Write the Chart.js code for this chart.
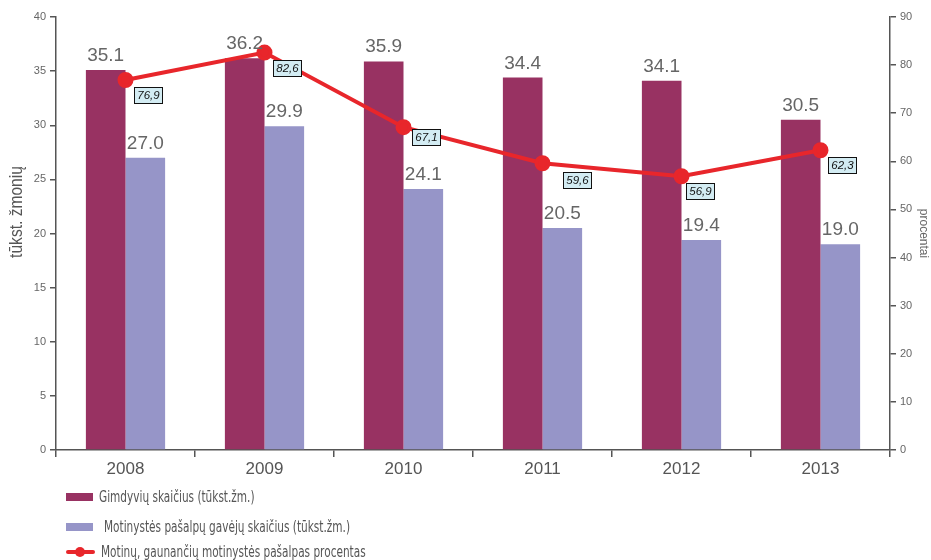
<!DOCTYPE html>
<html>
<head>
<meta charset="utf-8">
<script src="https://cdn.jsdelivr.net/npm/chart.js@4"></script>
<style>
  body { margin: 0; background: #fff; }
  #wrap { position: relative; width: 931px; height: 560px; overflow: hidden; }
  #legend { position: absolute; left: 66px; top: 486px; font-family: "Liberation Sans Narrow", "DejaVu Sans Condensed", sans-serif; font-size: 15px; color: #555; }
  .item { position: absolute; left: 0; white-space: nowrap; height: 16px; line-height: 16px; }
  .box { position: absolute; left: 0; top: 4px; width: 27px; height: 8px; }
  .txt { position: absolute; transform: scaleX(0.78); transform-origin: 0 50%; }
  .ln { position: absolute; left: 0; top: 6px; width: 29px; height: 4px; background: #e8262b; border-radius: 2px; }
  .dot { position: absolute; left: 9px; top: 3px; width: 10px; height: 10px; border-radius: 50%; background: #e8262b; }
</style>
</head>
<body>
<div id="wrap">
  <canvas id="c" width="931" height="560"></canvas>
  <div id="legend">
    <div class="item" style="top:3px"><span class="box" style="background:#983262"></span><span class="txt" style="left:33px">Gimdyvių skaičius (tūkst.žm.)</span></div>
    <div class="item" style="top:33px"><span class="box" style="background:#9695c8"></span><span class="txt" style="left:38px">Motinystės pašalpų gavėjų skaičius (tūkst.žm.)</span></div>
    <div class="item" style="top:58px"><span class="ln"></span><span class="dot"></span><span class="txt" style="left:35px">Motinų, gaunančių motinystės pašalpas procentas</span></div>
  </div>
</div>
<script>
// metai ir reikšmės
const metai = ['2008', '2009', '2010', '2011', '2012', '2013'];
const gimdyves = [35.1, 36.2, 35.9, 34.4, 34.1, 30.5];
const gavejai = [27.0, 29.9, 24.1, 20.5, 19.4, 19.0];
const procentai = [76.9, 82.6, 67.1, 59.6, 56.9, 62.3];

const MAROON = '#983262';
const LAVENDER = '#9695c8';
const RED = '#e8262b';
const AXIS = '#555';

// kur dėti procentų dėžutes taško atžvilgiu
const dezutesPoslinkis = [[8, 7], [8, 7], [8, 2], [20, 9], [4, 7], [7, 7]];

// reikšmių užrašai virš stulpelių, dėžutės prie linijos taškų, kairės ašies pavadinimas
const uzrasai = {
  id: 'uzrasai',
  afterDatasetsDraw(chart) {
    const ctx = chart.ctx;
    ctx.save();
    [0, 1].forEach(i => {
      chart.getDatasetMeta(i).data.forEach((bar, j) => {
        ctx.font = '19px "Liberation Sans", Arial, sans-serif';
        ctx.fillStyle = '#666';
        ctx.textAlign = 'center';
        ctx.textBaseline = 'alphabetic';
        ctx.fillText(chart.data.datasets[i].data[j].toFixed(1), bar.x, bar.y - 9);
      });
    });
    chart.getDatasetMeta(2).data.forEach((pt, j) => {
      const txt = procentai[j].toFixed(1).replace('.', ',');
      const [dx, dy] = dezutesPoslinkis[j];
      const bx = Math.round(pt.x) + dx + 0.5, by = Math.round(pt.y) + dy + 0.5;
      ctx.fillStyle = '#d3ecf3';
      ctx.fillRect(bx, by, 28, 16);
      ctx.strokeStyle = '#111';
      ctx.lineWidth = 1;
      ctx.strokeRect(bx, by, 28, 16);
      ctx.font = 'italic 11.5px "Liberation Sans", Arial, sans-serif';
      ctx.fillStyle = '#111';
      ctx.textAlign = 'center';
      ctx.textBaseline = 'middle';
      ctx.fillText(txt, bx + 14, by + 8.5);
    });

    // ašies pavadinimas, siauresnis šriftas
    ctx.translate(17, 212);
    ctx.rotate(-Math.PI / 2);
    ctx.scale(0.82, 1);
    ctx.font = '19px "Liberation Sans", Arial, sans-serif';
    ctx.fillStyle = '#555';
    ctx.textAlign = 'center';
    ctx.textBaseline = 'middle';
    ctx.fillText('tūkst. žmonių', 0, 0);
    ctx.restore();
  }
};

new Chart(document.getElementById('c'), {
  data: {
    labels: metai,
    datasets: [
      { type: 'bar', label: 'Gimdyvių skaičius (tūkst.žm.)', data: gimdyves, backgroundColor: MAROON, yAxisID: 'y', order: 2 },
      { type: 'bar', label: 'Motinystės pašalpų gavėjų skaičius (tūkst.žm.)', data: gavejai, backgroundColor: LAVENDER, yAxisID: 'y', order: 2 },
      { type: 'line', label: 'Motinų, gaunančių motinystės pašalpas procentas', data: procentai, borderColor: RED, backgroundColor: RED, borderWidth: 4, pointRadius: 6, pointHoverRadius: 6, yAxisID: 'y2', order: 1 }
    ]
  },
  options: {
    responsive: false,
    animation: false,
    layout: { padding: { top: 17, bottom: 80 } },
    datasets: { bar: { categoryPercentage: 0.57, barPercentage: 1 } },
    plugins: { legend: { display: false }, tooltip: { enabled: false } },
    scales: {
      x: {
        offset: true,
        grid: { offset: true, drawOnChartArea: false, tickLength: 7, color: AXIS, lineWidth: 1.5 },
        border: { color: AXIS, width: 1.5 },
        ticks: { color: '#555', font: { size: 17, family: '"Liberation Sans", Arial, sans-serif' }, padding: 2 },
        afterFit: s => { s.height = 30; }
      },
      y: {
        position: 'left', min: 0, max: 40,
        ticks: { stepSize: 5, color: '#666', font: { size: 11, family: '"Liberation Sans", Arial, sans-serif' }, padding: 4 },
        grid: { drawOnChartArea: false, tickLength: 6, color: AXIS, lineWidth: 1.5 },
        border: { color: AXIS, width: 1.5 },
        afterFit: s => { s.width = 56; }
      },
      y2: {
        position: 'right', min: 0, max: 90,
        ticks: { stepSize: 10, color: '#666', font: { size: 11, family: '"Liberation Sans", Arial, sans-serif' }, padding: 4 },
        grid: { drawOnChartArea: false, tickLength: 6, color: AXIS, lineWidth: 1.5 },
        border: { color: AXIS, width: 1.5 },
        title: { display: true, text: 'procentai', color: '#666', font: { size: 12, family: '"Liberation Sans", Arial, sans-serif' }, padding: { top: 0, bottom: 2 } },
        afterFit: s => { s.width = 41; }
      }
    }
  },
  plugins: [uzrasai]
});
</script>
</body>
</html>
